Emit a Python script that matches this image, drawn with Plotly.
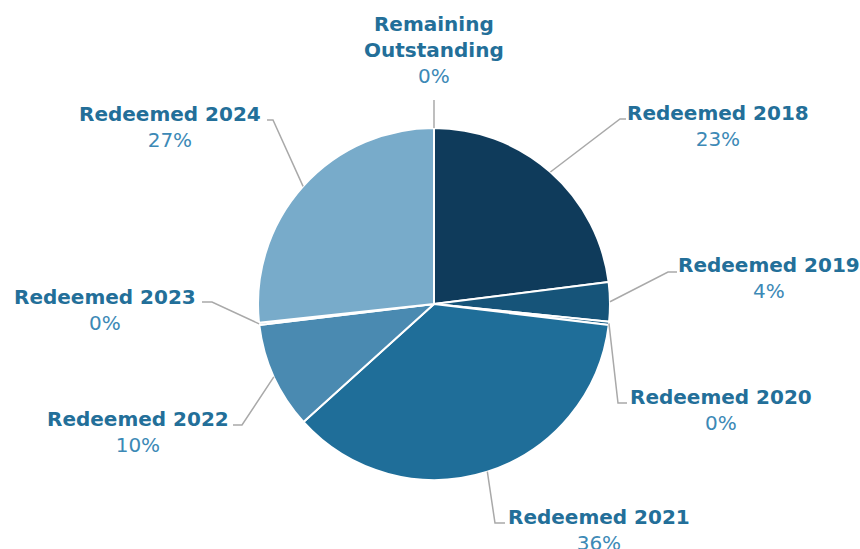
import math
import plotly.graph_objects as go

# ---- data ----
labels = ["Redeemed 2018", "Redeemed 2019", "Redeemed 2020", "Redeemed 2021",
          "Redeemed 2022", "Redeemed 2023", "Redeemed 2024", "Remaining Outstanding"]
values = [23.0, 3.6, 0.3, 36.4, 9.8, 0.2, 26.7, 0.0]
colors = ["#0f3b5b", "#165479", "#1b6089", "#1f6e99", "#4a8ab1", "#5f9abf", "#78abca", "#8fbad4"]

# ---- layout helpers (pixel space, figure is 860x549, zero margins) ----
W, H = 860, 549
CX, CY, R = 434, 304, 176

def px(x):
    return x / W

def py(y):
    return 1 - y / H

# label block centres and leader-line elbows/ends (layout positions)
label_pos = [(718, 126), (769, 278), (721, 410), (599, 530),
             (138, 432), (105, 310), (170, 127), (434, 50)]
elbows = [[(620, 119), (626, 119)],
          [(668, 272), (677, 272)],
          [(618, 403), (627, 403)],
          [(495, 523), (505, 523)],
          [(242, 425), (233, 425)],
          [(212, 302), (202, 302)],
          [(273, 120), (267, 120)],
          [(434, 100)]]

total = sum(values)
fig = go.Figure()
fig.add_trace(go.Pie(
    labels=labels, values=values, sort=False, direction="clockwise", rotation=0,
    marker=dict(colors=colors, line=dict(color="white", width=2)),
    textinfo="none", hoverinfo="label+percent", showlegend=False,
    domain=dict(x=[px(CX - R), px(CX + R)], y=[py(CY + R), py(CY - R)]),
))

shapes = []
annotations = []
cum = 0.0
for i, (lab, v) in enumerate(zip(labels, values)):
    mid = (cum + v / 2) / total
    cum += v
    th = 2 * math.pi * mid
    ax = CX + R * math.sin(th)
    ay = CY - R * math.cos(th)
    pts = [(ax, ay)] + elbows[i]
    path = "M " + " L ".join(f"{px(x):.5f},{py(y):.5f}" for x, y in pts)
    shapes.append(dict(type="path", path=path, xref="paper", yref="paper",
                       line=dict(color="#a9a9a9", width=1.5)))
    pct = f"{round(v / total * 100)}%"
    name = lab.replace("Remaining Outstanding", "Remaining<br>Outstanding")
    text = (f"<b>{name}</b><br><span style='color:#3c89b6'>{pct}</span>")
    lx, ly = label_pos[i]
    annotations.append(dict(x=px(lx), y=py(ly), xref="paper", yref="paper",
                            text=text, showarrow=False, align="center",
                            xanchor="center", yanchor="middle",
                            font=dict(family="DejaVu Sans", size=20, color="#236f99")))

fig.update_layout(
    width=W, height=H, margin=dict(l=0, r=0, t=0, b=0),
    paper_bgcolor="white", plot_bgcolor="white",
    shapes=shapes, annotations=annotations,
)
fig.write_html("out.html", config={"displayModeBar": False},
               post_script="document.body.style.margin='0';document.body.style.overflow='hidden';")
